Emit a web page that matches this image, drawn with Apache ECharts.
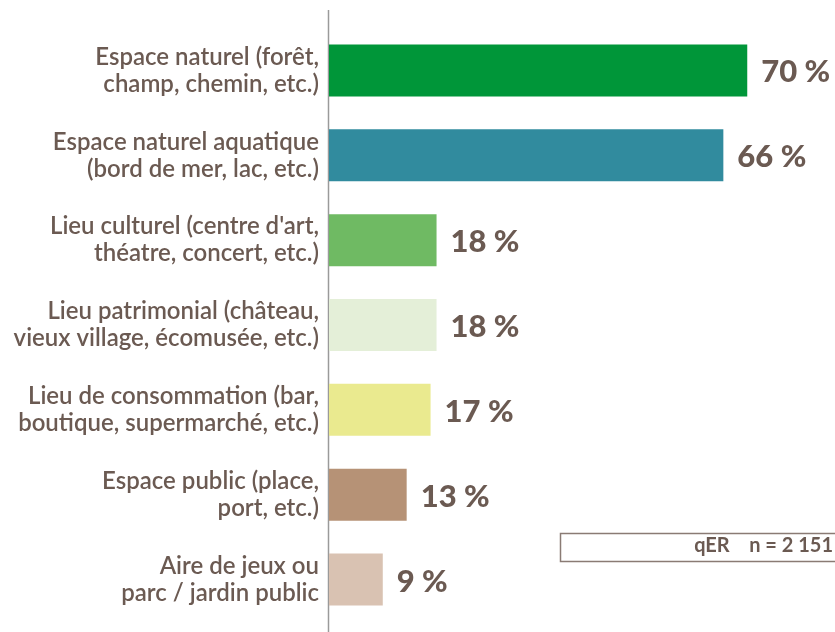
<!DOCTYPE html>
<html>
<head>
<meta charset="utf-8">
<script src="https://cdn.jsdelivr.net/npm/echarts@6/dist/echarts.min.js"></script>
<style>
  html, body { margin: 0; padding: 0; background: #fff; }
  #main { width: 835px; height: 632px; }
</style>
</head>
<body>
<div id="main"></div>
<script>
// lieux fréquentés (qER)
const categories = [
  "Espace naturel (forêt,\nchamp, chemin, etc.)",
  "Espace naturel aquatique\n(bord de mer, lac, etc.)",
  "Lieu culturel (centre d'art,\nthéatre, concert, etc.)",
  "Lieu patrimonial (château,\nvieux village, écomusée, etc.)",
  "Lieu de consommation (bar,\nboutique, supermarché, etc.)",
  "Espace public (place,\nport, etc.)",
  "Aire de jeux ou\nparc / jardin public"
];
const values = [70, 66, 18, 18, 17, 13, 9];
const barColors = ["#009639", "#318b9e", "#6fba63", "#e4efd8", "#eaea8f", "#b69276", "#d9c2b2"];
const note = "qER    n = 2 151";

const brown = "#6b5a52";

const chart = echarts.init(document.getElementById("main"));
chart.setOption({
  animation: false,
  grid: { left: 329, right: 28, top: 28, bottom: 10 },
  xAxis: {
    type: "value",
    min: 0,
    max: 80,
    show: false
  },
  yAxis: {
    type: "category",
    inverse: true,
    data: categories,
    axisLine: { show: false },
    axisTick: { show: false },
    axisLabel: {
      margin: 10,
      color: brown,
      fontFamily: "Lato",
      fontWeight: 600,
      fontSize: 24,
      lineHeight: 27,
      align: "right"
    }
  },
  series: [{
    type: "bar",
    barWidth: 52,
    data: values.map((v, i) => ({ value: v, itemStyle: { color: barColors[i] } })),
    label: {
      show: true,
      position: "right",
      distance: 14,
      offset: [0, 2],
      formatter: p => p.value + " %",
      color: brown,
      fontFamily: "Lato",
      fontWeight: 900,
      fontSize: 31
    }
  }],
  graphic: [
    {
      type: "line",
      shape: { x1: 328.5, y1: 10, x2: 328.5, y2: 632 },
      style: { stroke: "#9a9a9a", lineWidth: 1.5 }
    },
    {
      type: "rect",
      shape: { x: 560.5, y: 533.5, width: 290, height: 28 },
      style: { fill: "#fff", stroke: "#8a7b74", lineWidth: 1.5 }
    },
    {
      type: "text",
      right: 2,
      top: 536,
      style: {
        text: note,
        fill: brown,
        font: "bold 20px Lato",
        whiteSpace: "pre"
      }
    }
  ]
});
</script>
</body>
</html>
